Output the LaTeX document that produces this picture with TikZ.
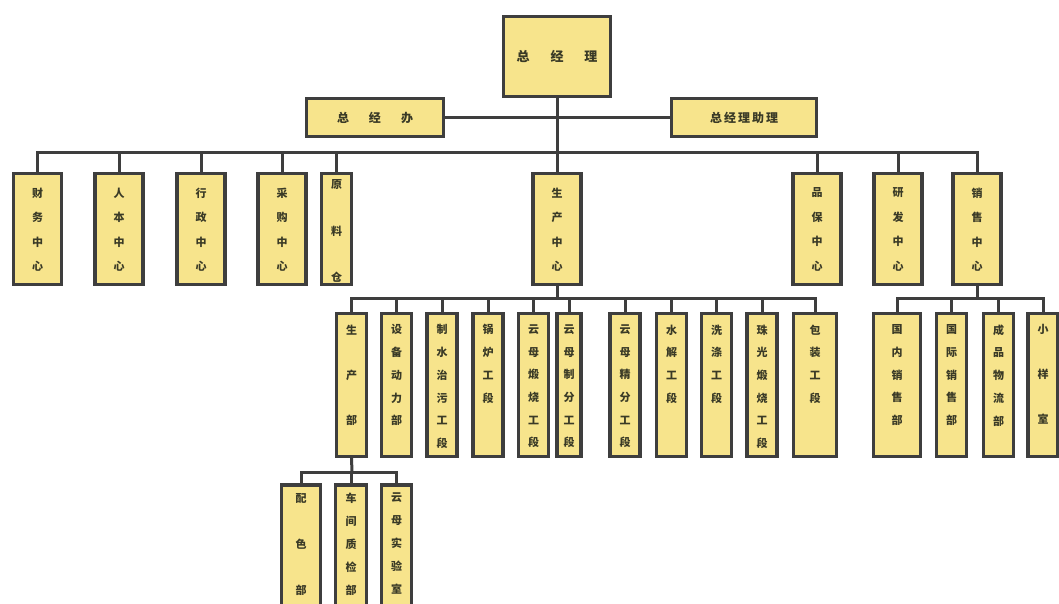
\documentclass[tikz,border=0pt]{standalone}
\usepackage{fontspec}
\newfontfamily\cjk{Noto Sans CJK SC}
\definecolor{boxfill}{HTML}{F7E48C}
\definecolor{edge}{HTML}{3E3E3E}
\definecolor{ink}{HTML}{3A3A26}
\begin{document}
\begin{tikzpicture}[x=1pt,y=-1pt,
  box/.style={draw=edge,fill=boxfill,line width=3.2pt,inner sep=0pt,rectangle,text=ink},
  bx/.style 2 args={box,minimum width=#1pt,minimum height=#2pt},
  vlab/.style={align=center,inner sep=0pt,text=ink},
  vt/.style n args={3}{label={[vlab,anchor=north,yshift=-#1pt,font=\cjk\bfseries\fontsize{11}{#2}\selectfont]north:{#3}}},
  wire/.style={draw=edge,line width=3pt}
]
\useasboundingbox (0,0) rectangle (1059,603);
\clip (0,0) rectangle (1059,603);
\fill[white] (0,0) rectangle (1059,603);

% top level
\node[bx={107}{80},font=\cjk\bfseries\fontsize{13}{15}\selectfont] (ceo) at (557,56.5) {总\hspace{21pt}经\hspace{21pt}理};
\node[bx={137}{38},font=\cjk\bfseries\fontsize{12}{14}\selectfont] (gjb) at (375,117.5) {总\hspace{20pt}经\hspace{20pt}办};
\node[bx={145}{38},font=\cjk\bfseries\fontsize{12}{14}\selectfont] (zl) at (744,117.5) {总\hspace{2pt}经\hspace{2pt}理\hspace{2pt}助\hspace{2pt}理};

% second level
\node[bx={48}{111},vt={15.5}{24.5}{财\\务\\中\\心}] (cw) at (37.5,229) {};
\node[bx={48}{111},vt={15.5}{24.5}{人\\本\\中\\心}] (rb) at (119,229) {};
\node[bx={48}{111},vt={15.5}{24.5}{行\\政\\中\\心}] (xz) at (201,229) {};
\node[bx={48}{111},vt={15.5}{24.5}{采\\购\\中\\心}] (cg) at (282,229) {};
\node[bx={30}{111},vt={7.5}{46.5}{原\\料\\仓}] (yl) at (336.5,229) {};
\node[bx={48}{111},vt={15.5}{24.5}{生\\产\\中\\心}] (sc) at (557,229) {};
\node[bx={48}{111},vt={15.5}{24.5}{品\\保\\中\\心}] (pb) at (817,229) {};
\node[bx={48}{111},vt={15.5}{24.5}{研\\发\\中\\心}] (yf) at (898,229) {};
\node[bx={48}{111},vt={15.5}{24.5}{销\\售\\中\\心}] (xs) at (977,229) {};

% third level: production
\node[bx={30}{143},vt={12.5}{45}{生\\产\\部}] (scb) at (351.5,385) {};
\node[bx={30}{143},vt={12.5}{22.7}{设\\备\\动\\力\\部}] (sb) at (396.5,385) {};
\node[bx={30}{143},vt={12.5}{22.7}{制\\水\\治\\污\\工\\段}] (zs) at (442,385) {};
\node[bx={30}{143},vt={12.5}{22.7}{锅\\炉\\工\\段}] (gl) at (488,385) {};
\node[bx={30}{143},vt={12.5}{22.7}{云\\母\\煅\\烧\\工\\段}] (ys1) at (533.5,385) {};
\node[bx={24}{143},vt={12.5}{22.7}{云\\母\\制\\分\\工\\段}] (ys2) at (569,385) {};
\node[bx={30}{143},vt={12.5}{22.7}{云\\母\\精\\分\\工\\段}] (ys3) at (625,385) {};
\node[bx={30}{143},vt={12.5}{22.7}{水\\解\\工\\段}] (sj) at (671.5,385) {};
\node[bx={30}{143},vt={12.5}{22.7}{洗\\涤\\工\\段}] (xd) at (716.5,385) {};
\node[bx={30}{143},vt={12.5}{22.7}{珠\\光\\煅\\烧\\工\\段}] (zg) at (762,385) {};
\node[bx={43}{143},vt={12.5}{22.7}{包\\装\\工\\段}] (bz) at (815,385) {};

% third level: sales
\node[bx={47}{143},vt={12.5}{22.7}{国\\内\\销\\售\\部}] (gn) at (897,385) {};
\node[bx={30}{143},vt={12.5}{22.7}{国\\际\\销\\售\\部}] (gj) at (951.5,385) {};
\node[bx={30}{143},vt={12.5}{22.7}{成\\品\\物\\流\\部}] (cp) at (998.5,385) {};
\node[bx={30}{143},vt={12.5}{45}{小\\样\\室}] (xy) at (1043,385) {};

% fourth level
\node[bx={39}{140},vt={9.5}{46}{配\\色\\部}] (ps) at (301,555) {};
\node[bx={31}{140},vt={9.5}{23}{车\\间\\质\\检\\部}] (cj) at (351,555) {};
\node[bx={30}{140},vt={9.5}{23}{云\\母\\实\\验\\室}] (sy) at (396.5,555) {};

% bus junctions
\coordinate (b1) at (557,152);
\coordinate (b2) at (557,298);
\coordinate (b3) at (977,298);
\coordinate (b4) at (352,472);

% connectors
\draw[wire] (gjb.east) -- (zl.west);
\draw[wire] (ceo.south) -- (sc.north);
\draw[wire] (cw.north) |- (b1) -| (xs.north);
\foreach \n in {rb,xz,cg,yl,pb,yf} \draw[wire] (\n.north) -- (\n.north |- b1);

\draw[wire] (sc.south) -- (b2);
\draw[wire] (scb.north) |- (b2) -| (bz.north);
\foreach \n in {sb,zs,gl,ys1,ys2,ys3,sj,xd,zg} \draw[wire] (\n.north) -- (\n.north |- b2);

\draw[wire] (xs.south) -- (b3);
\draw[wire] (gn.north) |- (b3) -| (xy.north);
\foreach \n in {gj,cp} \draw[wire] (\n.north) -- (\n.north |- b3);

\draw[wire] (scb.south) -- (b4);
\draw[wire] (ps.north) |- (b4) -| (sy.north);
\draw[wire] (cj.north) -- (cj.north |- b4);
\end{tikzpicture}
\end{document}
